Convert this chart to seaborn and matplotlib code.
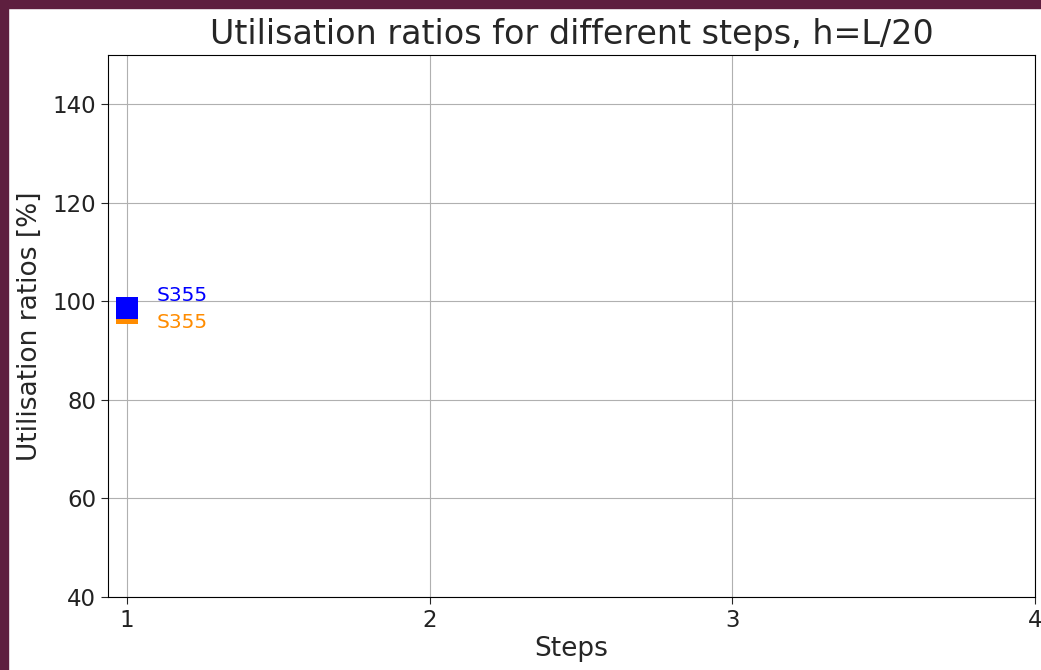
import numpy as np
import pandas as pd
import matplotlib
matplotlib.use("Agg")
import matplotlib.pyplot as plt
import seaborn as sns
from matplotlib.patches import Rectangle

steps = [1, 1]
ratios = [97.6, 98.6]
grades = ["S355", "S355"]
series = ["orange", "blue"]
colours = {"orange": "darkorange", "blue": "blue"}

df = pd.DataFrame({"Steps": steps, "Ratio": ratios, "Grade": grades, "Series": series})

sns.set_style("ticks")
plt.rcParams['font.family'] = ['DejaVu Sans']

fig = plt.figure(figsize=(10.41, 6.70), dpi=100, facecolor="white")
ax = fig.add_axes([108 / 1041, 1 - 597 / 670, (1035 - 108) / 1041, (597 - 55) / 670])

sns.scatterplot(data=df, x="Steps", y="Ratio", hue="Series", palette=colours,
                marker="s", s=260, linewidth=0, legend=False, ax=ax, zorder=3)

# labels next to points
ax.annotate(grades[1], (steps[1], ratios[1]), xytext=(21, 5), textcoords="offset points",
            color="blue", fontsize=14.5)
ax.annotate(grades[0], (steps[0], ratios[0]), xytext=(21, -11), textcoords="offset points",
            color="darkorange", fontsize=14.5)

ax.set_xlim(0.937, 4)
ax.set_ylim(40, 150)
ax.set_xticks([1, 2, 3, 4])
ax.set_yticks([40, 60, 80, 100, 120, 140])
ax.grid(True, color="#b0b0b0", linewidth=0.8)
ax.set_axisbelow(True)
for sp in ax.spines.values():
    sp.set_visible(True)
    sp.set_color("black")
ax.tick_params(labelsize=16.5, direction="out", length=5, labelcolor="#222222")
ax.set_title("Utilisation ratios for different steps, h=L/20", fontsize=24, pad=8)
ax.set_xlabel("Steps", fontsize=19, labelpad=3)
ax.set_ylabel("Utilisation ratios [%]", fontsize=19, labelpad=7)

# dark frame from the screenshot
border = "#5e1f3f"
fig.patches.append(Rectangle((0, 0), 8 / 1041, 1, transform=fig.transFigure, color=border, zorder=10))
fig.patches.append(Rectangle((0, 1 - 8 / 670), 1, 8 / 670, transform=fig.transFigure, color=border, zorder=10))

fig.savefig("out.png", dpi=100, facecolor="white")
